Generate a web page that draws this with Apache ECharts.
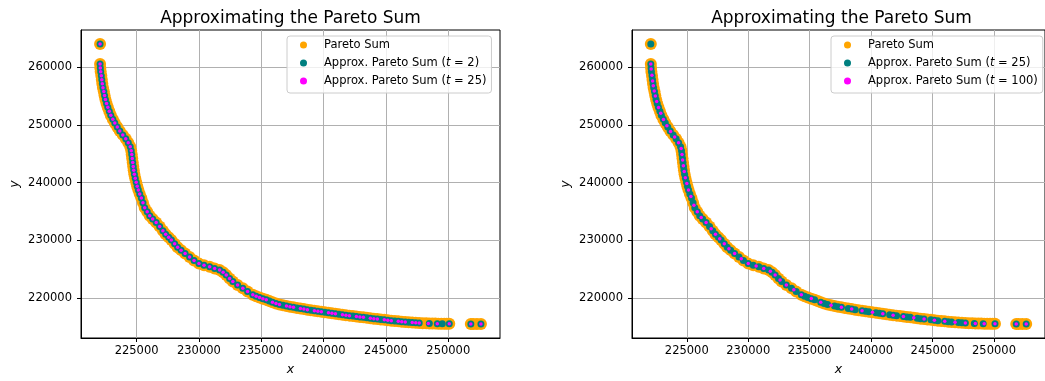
<!DOCTYPE html>
<html>
<head>
<meta charset="utf-8">
<script src="https://cdn.jsdelivr.net/npm/echarts@6/dist/echarts.min.js"></script>
<style>
  html, body { margin: 0; padding: 0; background: #ffffff; }
  #chart { width: 1045px; height: 381px; }
</style>
</head>
<body>
<div id="chart"></div>
<script>
// Pareto sum of the two objective sets, as [x, y] points
const paretoSum = [
  [222070,264030],[222070,260560],[222090,259880],[222120,259200],[222170,258510],[222210,257830],
  [222250,257150],[222300,256460],[222370,255780],[222430,255100],[222500,254410],[222590,253730],
  [222690,253050],[222810,252370],[222930,251680],[223090,251000],[223250,250320],[223450,249630],
  [223650,248950],[223890,248270],[224130,247580],[224330,246900],[224490,246220],[224570,245530],
  [224610,244850],[224650,244170],[224690,243480],[224730,242800],[224770,242120],[224820,241430],
  [224890,240750],[224970,240070],[225050,239380],[225140,238700],[225250,238020],[225380,237340],
  [225510,236480],[225650,235630],[225850,234940],[226050,234260],[226290,233660],[226570,233060],
  [226850,232380],[227110,231650],[227330,231020],[227570,230500],[227790,230040],[228050,229390],
  [228290,228800],[228570,228280],[228890,227690],[229250,227090],[229610,226490],[230000,225940],
  [230410,225640],[230860,225380],[231260,225090],[231660,224820],[231940,224440],[232190,223960],
  [232460,223380],[232720,222820],[233100,222220],[233520,221670],[233900,221110],[234320,220550],
  [234590,220300],[234860,220080],[235130,219860],[235400,219660],[235650,219450],[235900,219260],
  [236180,219040],[236460,218840],[236740,218700],[237020,218580],[237300,218470],[237580,218360],
  [237860,218250],[238140,218150],[238420,218050],[238700,217950],[238980,217850],[239260,217760],
  [239540,217670],[239820,217590],[240100,217500],[240390,217420],[240670,217330],[240950,217250],
  [241230,217160],[241510,217080],[241790,217000],[242070,216920],[242350,216840],[242630,216770],
  [242910,216690],[243190,216620],[243470,216540],[243750,216460],[244030,216390],[244310,216330],
  [244590,216260],[244870,216190],[245150,216120],[245430,216050],[245710,215990],[245990,215930],
  [246270,215870],[246550,215810],[246830,215770],[247110,215730],[247390,215680],[247670,215640],
  [247950,215610],[248230,215590],[248480,215570],[248720,215560],[248960,215540],[249200,215520],
  [249440,215515],[249680,215510],[249880,215510],[250080,215510],[251810,215470],[252000,215470],
  [252300,215470],[252620,215470]
];

// Approximation with t = 2
const approxT2 = [
  [222070,264030],[222070,260560],[222090,259880],[222120,259200],[222170,258510],[222210,257830],
  [222250,257150],[222300,256460],[222370,255780],[222430,255100],[222500,254410],[222590,253730],
  [222690,253050],[222810,252370],[222930,251680],[223090,251000],[223250,250320],[223450,249630],
  [223650,248950],[223890,248270],[224130,247580],[224330,246900],[224490,246220],[224570,245530],
  [224610,244850],[224650,244170],[224690,243480],[224730,242800],[224770,242120],[224820,241430],
  [224890,240750],[224970,240070],[225050,239380],[225140,238700],[225250,238020],[225380,237340],
  [225510,236480],[225650,235630],[225850,234940],[226050,234260],[226290,233660],[226570,233060],
  [226850,232380],[227110,231650],[227330,231020],[227570,230500],[227790,230040],[228050,229390],
  [228290,228800],[228570,228280],[228890,227690],[229250,227090],[229610,226490],[230000,225940],
  [230410,225640],[230860,225380],[231260,225090],[231660,224820],[231940,224440],[232190,223960],
  [232460,223380],[232720,222820],[233100,222220],[233520,221670],[233900,221110],[234320,220550],
  [234590,220300],[234860,220080],[235130,219860],[235400,219660],[235650,219450],[235900,219260],
  [236180,219040],[236460,218840],[236740,218700],[237020,218580],[237300,218470],[237580,218360],
  [237860,218250],[238140,218150],[238420,218050],[238700,217950],[238980,217850],[239260,217760],
  [239540,217670],[239820,217590],[240100,217500],[240390,217420],[240670,217330],[240950,217250],
  [241230,217160],[241510,217080],[241790,217000],[242070,216920],[242350,216840],[242630,216770],
  [242910,216690],[243190,216620],[243470,216540],[243750,216460],[244030,216390],[244310,216330],
  [244590,216260],[244870,216190],[245150,216120],[245430,216050],[245710,215990],[245990,215930],
  [246270,215870],[246550,215810],[246830,215770],[247110,215730],[247390,215680],[247670,215640],
  [248480,215570],[249120,215530],[249520,215520],[250080,215510],[251810,215470],[252620,215470]
];

// Approximation with t = 25
const approxT25 = [
  [222070,264030],[222070,260560],[222090,259880],[222120,259200],[222170,258510],[222210,257830],
  [222250,257150],[222300,256460],[222370,255780],[222430,255100],[222500,254410],[222590,253730],
  [222690,253050],[222810,252370],[222930,251680],[223090,251000],[223250,250320],[223450,249630],
  [223650,248950],[223890,248270],[224130,247580],[224330,246900],[224490,246220],[224570,245530],
  [224610,244850],[224650,244170],[224690,243480],[224730,242800],[224770,242120],[224820,241430],
  [224890,240750],[224970,240070],[225050,239380],[225140,238700],[225250,238020],[225380,237340],
  [225510,236480],[225650,235630],[225850,234940],[226050,234260],[226290,233660],[226570,233060],
  [226850,232380],[227110,231650],[227330,231020],[227570,230500],[227790,230040],[228050,229390],
  [228290,228800],[228570,228280],[228890,227690],[229250,227090],[229610,226490],[230000,225940],
  [230410,225640],[230860,225380],[231260,225090],[231660,224820],[231940,224440],[232190,223960],
  [232460,223380],[232720,222820],[233100,222220],[233520,221670],[233900,221110],[234320,220550],
  [234590,220300],[234860,220080],[235130,219860],[235400,219660],[235900,219260],[236180,219040],
  [236460,218840],[237020,218580],[237300,218470],[237580,218360],[238140,218150],[238420,218050],
  [238700,217950],[239260,217760],[239540,217670],[239820,217590],[240390,217420],[240670,217330],
  [240950,217250],[241510,217080],[241790,217000],[242070,216920],[242630,216770],[242910,216690],
  [243190,216620],[243750,216460],[244030,216390],[244310,216330],[244870,216190],[245150,216120],
  [245430,216050],[245990,215930],[246270,215870],[246550,215810],[247110,215730],[247390,215680],
  [247670,215640],[248400,215570],[249120,215530],[250080,215510],[251810,215470],[252620,215470]
];

// Approximation with t = 100
const approxT100 = [
  [222070,260560],[222100,259700],[222160,258600],[222220,257600],[222270,256800],[222350,255900],
  [222440,255000],[222550,254050],[222700,253000],[222880,252000],[223100,250950],[223380,249850],
  [223680,248850],[224010,247900],[224330,246900],[224540,245900],[224610,244850],[224660,243900],
  [224720,242900],[224790,241900],[224880,240850],[225000,239850],[225140,238700],[225330,237600],
  [225580,236050],[225850,234940],[226170,233950],[226570,233060],[226980,232000],[227330,231020],
  [227680,230270],[228050,229390],[228430,228540],[228890,227690],[229430,226790],[230000,225940],
  [230640,225510],[231260,225090],[231800,224630],[232190,223960],[232590,223100],[233100,222220],
  [233710,221390],[234320,220550],[235130,219870],[235900,219260],[236740,218710],[237580,218360],
  [238420,218050],[239260,217760],[240110,217500],[240950,217250],[241790,217000],[242630,216770],
  [243470,216540],[244310,216330],[245150,216120],[245990,215930],[246830,215770],[247670,215640],
  [248480,215570],[249200,215520],[250080,215510],[251810,215470],[252620,215470]
];

const xTicks = [225000, 230000, 235000, 240000, 245000, 250000];
const yTicks = [220000, 230000, 240000, 250000, 260000];
const panelTitle = 'Approximating the Pareto Sum';
const nameSum = 'Pareto Sum';
const nameT2 = 'Approx. Pareto Sum (t = 2)';
const nameT25 = 'Approx. Pareto Sum (t = 25)';
const nameT100 = 'Approx. Pareto Sum (t = 100)';

const FONT = 'DejaVu Sans';
const ORANGE = '#ffa500';
const TEAL = '#008080';
const MAGENTA = '#ff00ff';
const X_RANGE = [220540, 254150];
const Y_RANGE = [213040, 266460];

const gridBoxes = [
  { left: 81, top: 30, width: 419, height: 312 },
  { left: 632, top: 30, width: 419, height: 312 }
];

function xAxisFor(i) {
  return {
    type: 'value', gridIndex: i, min: X_RANGE[0], max: X_RANGE[1],
    name: 'x', nameLocation: 'middle', nameGap: 25,
    nameTextStyle: { fontFamily: FONT, fontSize: 12.5, fontStyle: 'italic', color: '#000' },
    axisLine: { show: true, onZero: false, lineStyle: { color: '#000', width: 1 } },
    axisTick: { show: true, inside: false, length: 4, customValues: xTicks, lineStyle: { color: '#000', width: 1 } },
    axisLabel: { customValues: xTicks, margin: 7, fontFamily: FONT, fontSize: 11.5, color: '#000', formatter: v => String(v) },
    splitLine: { show: true, lineStyle: { color: '#b0b0b0', width: 1 } }
  };
}

function yAxisFor(i) {
  return {
    type: 'value', gridIndex: i, min: Y_RANGE[0], max: Y_RANGE[1],
    name: 'y', nameLocation: 'middle', nameGap: 60,
    nameTextStyle: { fontFamily: FONT, fontSize: 12.5, fontStyle: 'italic', color: '#000' },
    axisLine: { show: true, onZero: false, lineStyle: { color: '#000', width: 1 } },
    axisTick: { show: true, inside: false, length: 4, customValues: yTicks, lineStyle: { color: '#000', width: 1 } },
    axisLabel: { customValues: yTicks, margin: 9, fontFamily: FONT, fontSize: 11.5, color: '#000', formatter: v => String(v) },
    splitLine: { show: true, lineStyle: { color: '#b0b0b0', width: 1 } }
  };
}

function scatter(name, data, color, size, i) {
  return {
    type: 'scatter', name, data, xAxisIndex: i, yAxisIndex: i,
    symbol: 'circle', symbolSize: size,
    itemStyle: { color, opacity: 1 },
    emphasis: { disabled: true }, silent: true, animation: false
  };
}

// leading gap after the marker, and an italic "t" inside the label
function legendLabel(name) {
  const m = name.match(/^(.*\()t( = \d+\))$/);
  return '{s| }' + (m ? m[1] + '{i|t}' + m[2] : name);
}

function legendFor(left, items) {
  return {
    orient: 'vertical', left, top: 36,
    padding: [2, 5, 5, 13], itemWidth: 7, itemHeight: 7, itemGap: 4,
    icon: 'circle', selectedMode: false,
    backgroundColor: 'rgba(255,255,255,0.8)', borderColor: '#cccccc', borderWidth: 1, borderRadius: 3,
    textStyle: {
      fontFamily: FONT, fontSize: 11.5, color: '#000', lineHeight: 14,
      rich: {
        s: { width: 12, fontFamily: FONT, fontSize: 11.5, lineHeight: 14 },
        i: { fontFamily: FONT, fontSize: 11.5, fontStyle: 'italic', color: '#000', lineHeight: 14 }
      }
    },
    formatter: legendLabel,
    data: items.map(([name, color]) => ({ name, itemStyle: { color } }))
  };
}

function titleFor(center) {
  return {
    text: panelTitle, left: center, top: 10, textAlign: 'center', padding: 0,
    textStyle: { fontFamily: FONT, fontSize: 17, fontWeight: 'normal', color: '#000' }
  };
}

const chart = echarts.init(document.getElementById('chart'), null, { renderer: 'canvas' });
chart.setOption({
  animation: false,
  backgroundColor: '#ffffff',
  title: [titleFor(290.5), titleFor(841.5)],
  grid: gridBoxes.map(g => Object.assign({ show: true, borderColor: '#000', borderWidth: 1, backgroundColor: 'transparent' }, g)),
  xAxis: [xAxisFor(0), xAxisFor(1)],
  yAxis: [yAxisFor(0), yAxisFor(1)],
  legend: [
    legendFor(287, [[nameSum, ORANGE], [nameT2, TEAL], [nameT25, MAGENTA]]),
    legendFor(831, [[nameSum, ORANGE], [nameT25, TEAL], [nameT100, MAGENTA]])
  ],
  series: [
    scatter(nameSum, paretoSum, ORANGE, 12, 0),
    scatter(nameT2, approxT2, TEAL, 7, 0),
    scatter(nameT25, approxT25, MAGENTA, 3.5, 0),
    scatter(nameSum, paretoSum, ORANGE, 12, 1),
    scatter(nameT25, approxT25, TEAL, 7, 1),
    scatter(nameT100, approxT100, MAGENTA, 3.5, 1)
  ]
});
</script>
</body>
</html>
